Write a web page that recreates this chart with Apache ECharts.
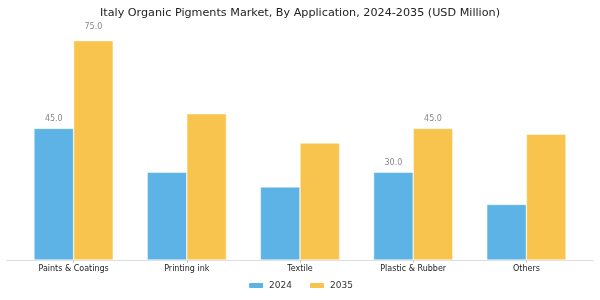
<!DOCTYPE html>
<html lang="en">
<head>
    <meta charset="UTF-8">
    <title>Italy Organic Pigments Market</title>
    <script src="https://cdn.jsdelivr.net/npm/echarts@6/dist/echarts.min.js"></script>
    <style>
        html, body { margin: 0; padding: 0; background: #fff; }
        #chart { width: 600px; height: 300px; }
    </style>
</head>
<body>
    <div id="chart"></div>
    <script>
    // data
    var categories = ['Paints & Coatings', 'Printing ink', 'Textile', 'Plastic & Rubber', 'Others'];
    var values2024 = [45, 30, 25, 30, 19];
    var values2035 = [75, 50, 40, 45, 43];
    // which bars carry a value label
    var labeled2024 = [true, false, false, true, false];
    var labeled2035 = [true, false, false, true, false];

    function withLabels(values, flags) {
        return values.map(function (v, i) {
            return {
                value: v,
                label: { show: flags[i], distance: v >= 70 ? 10 : 5 }
            };
        });
    }

    var barLabel = {
        position: 'top',
        color: '#888',
        fontSize: 8,
        fontFamily: 'DejaVu Sans',
        formatter: function (p) { return p.value.toFixed(1); }
    };

    var myChart = echarts.init(document.getElementById('chart'));
    var option = {
        animation: false,
        title: {
            text: 'Italy Organic Pigments Market, By Application, 2024-2035 (USD Million)',
            left: 'center',
            top: 3,
            textStyle: { fontFamily: 'DejaVu Sans', fontSize: 11.2, fontWeight: 'normal', color: '#222' }
        },
        legend: {
            bottom: 5,
            left: 'center',
            itemWidth: 16,
            itemHeight: 7,
            itemGap: 16,
            textStyle: { fontFamily: 'DejaVu Sans', fontSize: 9, color: '#333' },
            data: ['2024', '2035']
        },
        grid: [
            { left: 17, right: 17, top: 26, bottom: 40 },
            // wider grid only used for the baseline, which runs past the outer bars
            { left: 7, right: 7, top: 26, bottom: 40 }
        ],
        xAxis: [{
            type: 'category',
            data: categories,
            gridIndex: 0,
            axisLine: { show: false },
            axisTick: { show: true, alignWithLabel: true, length: 3, lineStyle: { color: '#ccc' } },
            axisLabel: { fontFamily: 'DejaVu Sans', fontSize: 8, color: '#222', margin: 5 }
        }, {
            type: 'category',
            data: [''],
            gridIndex: 1,
            axisLine: { lineStyle: { color: '#ddd' } },
            axisTick: { show: false },
            axisLabel: { show: false }
        }],
        yAxis: [
            { type: 'value', min: 0, max: 80, show: false, gridIndex: 0 },
            { type: 'value', min: 0, max: 80, show: false, gridIndex: 1 }
        ],
        series: [{
            name: '2024',
            type: 'bar',
            barGap: '0%',
            barCategoryGap: '30%',
            itemStyle: { color: '#5DB3E6', borderColor: '#fff', borderWidth: 0.5 },
            label: barLabel,
            data: withLabels(values2024, labeled2024)
        }, {
            name: '2035',
            type: 'bar',
            itemStyle: { color: '#F9C44D', borderColor: '#fff', borderWidth: 0.5 },
            label: barLabel,
            data: withLabels(values2035, labeled2035)
        }]
    };
    myChart.setOption(option);
    </script>
</body>
</html>
